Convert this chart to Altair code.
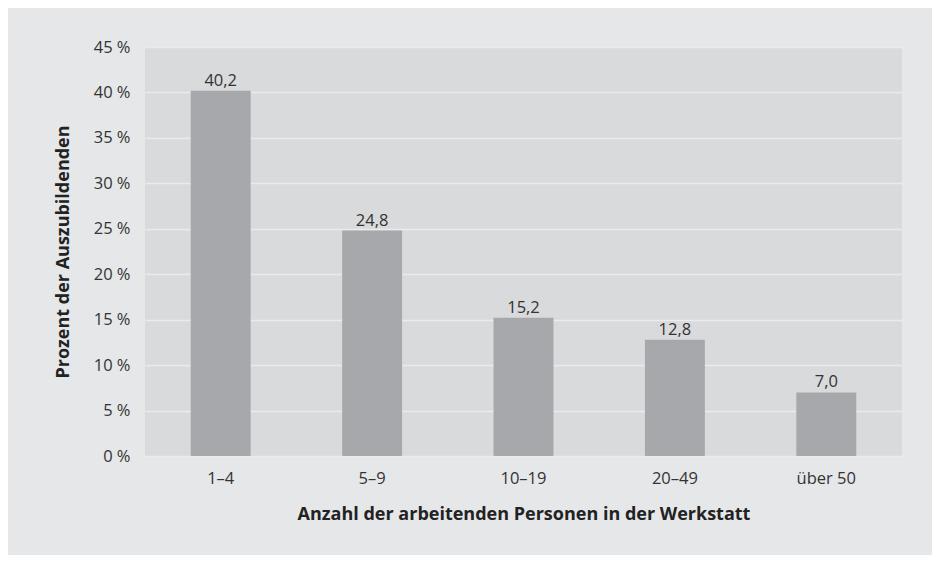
import altair as alt
import pandas as pd

categories = ["1–4", "5–9", "10–19", "20–49", "über 50"]
values = [40.2, 24.8, 15.2, 12.8, 7.0]
labels = ["40,2", "24,8", "15,2", "12,8", "7,0"]
y_ticks = [0, 5, 10, 15, 20, 25, 30, 35, 40, 45]

df = pd.DataFrame({"cat": categories, "val": values, "lab": labels})

FONT = "Open Sans, sans-serif"
TXT = "#333333"

x = alt.X("cat:N", sort=categories,
          scale=alt.Scale(paddingInner=0.604, paddingOuter=0.302),
          axis=alt.Axis(title="Anzahl der arbeitenden Personen in der Werkstatt",
                        labelAngle=0, labelPadding=14, ticks=False, domain=False,
                        labelFontSize=16.5, labelColor=TXT, labelFont=FONT,
                        titleFontSize=18, titleFontWeight="bold", titleColor="#222222",
                        titleFont=FONT, titlePadding=19))
y = alt.Y("val:Q", scale=alt.Scale(domain=[0, 45], nice=False),
          axis=alt.Axis(title="Prozent der Auszubildenden", values=y_ticks,
                        labelExpr="datum.value + ' %'", ticks=False, domain=False,
                        labelFontSize=16.5, labelColor=TXT, labelFont=FONT, labelPadding=15,
                        grid=True, gridColor="#ebebed", gridWidth=1.5,
                        titleFontSize=18, titleFontWeight="bold", titleColor="#222222",
                        titleFont=FONT, titlePadding=21))

bars = alt.Chart(df).mark_bar(color="#a7a8ab").encode(x=x, y=y)
text = alt.Chart(df).mark_text(baseline="bottom", dy=-2, fontSize=16.5, color=TXT, font=FONT).encode(
    x=alt.X("cat:N", sort=categories), y="val:Q", text="lab:N")

chart = (bars + text).properties(
    width=757, height=409,
    background="#e6e7e9",
    autosize=alt.AutoSizeParams(type="none"),
    padding={"left": 137, "top": 39, "right": 30, "bottom": 99},
).configure_view(fill="#d9dadc", stroke=None)

chart.save("out.html", embed_options={"renderer": "svg", "actions": False})
